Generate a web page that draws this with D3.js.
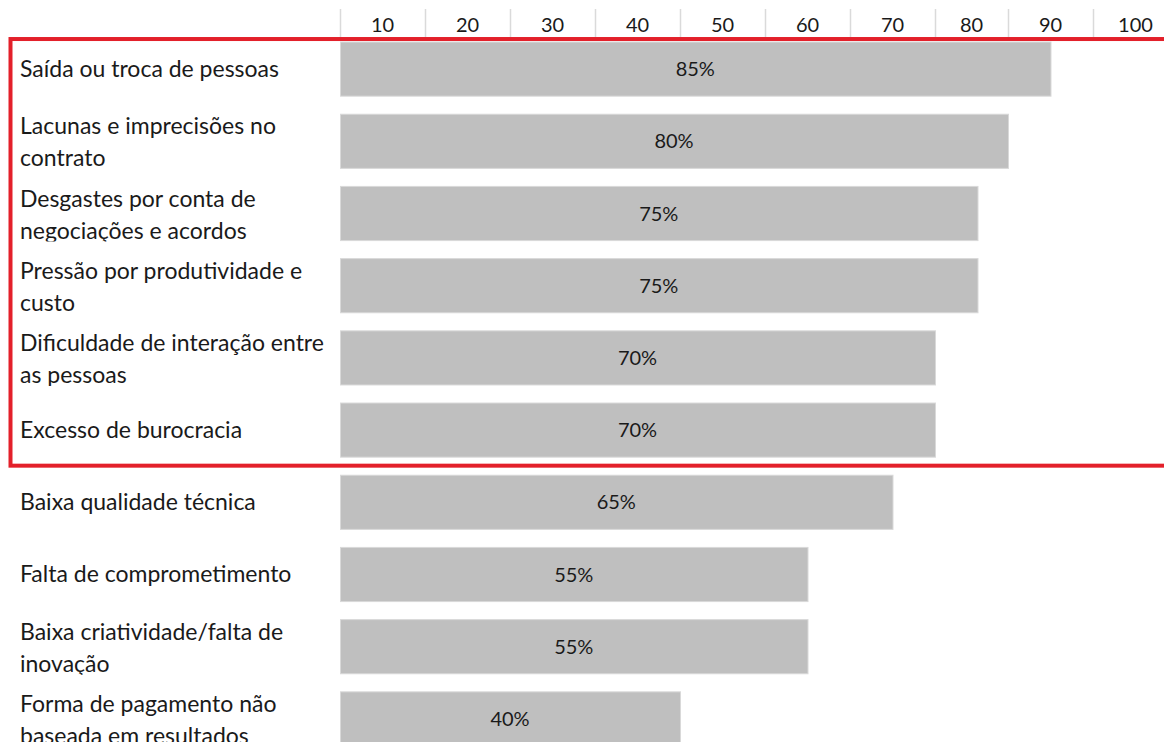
<!DOCTYPE html>
<html>
<head>
<meta charset="utf-8">
<script src="https://cdn.jsdelivr.net/npm/d3@7"></script>
<style>
  body { margin: 0; background: #fff; }
  svg { display: block; font-family: Lato, "Open Sans", sans-serif; }
  .cat { font-size: 23px; fill: #1a1a1a; }
  .val { font-size: 20px; fill: #1a1a1a; }
  .tick-label { font-size: 20px; fill: #1a1a1a; }
</style>
</head>
<body>
<div id="chart"></div>
<script>
const categories = [
  "Saída ou troca de pessoas",
  "Lacunas e imprecisões no\ncontrato",
  "Desgastes por conta de\nnegociações e acordos",
  "Pressão por produtividade e\ncusto",
  "Dificuldade de interação entre\nas pessoas",
  "Excesso de burocracia",
  "Baixa qualidade técnica",
  "Falta de comprometimento",
  "Baixa criatividade/falta de\ninovação",
  "Forma de pagamento não\nbaseada em resultados",
];
const values = [85, 80, 75, 75, 70, 70, 65, 55, 55, 40];
const tickLabels = [10, 20, 30, 40, 50, 60, 70, 80, 90, 100];
const highlightCount = 6;

const width = 1164;
const height = 742;

// header columns in the source are not all equal width, so the scale is piecewise
const x = d3
  .scaleLinear()
  .domain([0, 75, 80, 100])
  .range([340, 977.5, 1008, 1178]);

const y = d3
  .scaleBand()
  .domain(categories)
  .range([33, 33 + 72.2 * categories.length])
  .paddingInner(0.25)
  .paddingOuter(0.125);

const svg = d3
  .select("#chart")
  .append("svg")
  .attr("width", width)
  .attr("height", height);

// header: column lines and labels centred between them
const header = svg.append("g").attr("class", "header");
header
  .selectAll("line")
  .data([0, ...tickLabels])
  .join("line")
  .attr("x1", (d) => Math.round(x(d)) + 0.5)
  .attr("x2", (d) => Math.round(x(d)) + 0.5)
  .attr("y1", 9)
  .attr("y2", 38)
  .attr("stroke", "#dadada")
  .attr("stroke-width", 1.5);
header
  .selectAll("text")
  .data(tickLabels)
  .join("text")
  .attr("class", "tick-label")
  .attr("x", (d) => (x(d - 10) + x(d)) / 2)
  .attr("y", 32)
  .attr("text-anchor", "middle")
  .text((d) => d);

// bars
const row = svg
  .selectAll(".row")
  .data(categories)
  .join("g")
  .attr("class", "row");

row
  .append("rect")
  .attr("x", x(0) + 0.5)
  .attr("y", (d) => y(d))
  .attr("width", (d, i) => x(values[i]) - x(0))
  .attr("height", y.bandwidth())
  .attr("fill", "#bfbfbf")
  .attr("stroke", "#d9d9d9")
  .attr("stroke-width", 1);

row
  .append("text")
  .attr("class", "val")
  .attr("x", (d, i) => (x(0) + x(values[i])) / 2)
  .attr("y", (d) => y(d) + y.bandwidth() / 2 + 7)
  .attr("text-anchor", "middle")
  .text((d, i) => values[i] + "%");

// category labels, clipped to their row like spreadsheet cells
const defs = svg.append("defs");
defs
  .selectAll("clipPath")
  .data(categories)
  .join("clipPath")
  .attr("id", (d, i) => "clip-" + i)
  .append("rect")
  .attr("x", 0)
  .attr("y", (d) => y(d) - 14)
  .attr("width", 338)
  .attr("height", y.bandwidth() + 15);

row
  .append("text")
  .attr("class", "cat")
  .attr("clip-path", (d, i) => `url(#clip-${i})`)
  .each(function (d) {
    const lines = d.split("\n");
    const mid = y(d) + y.bandwidth() / 2;
    const t = d3.select(this);
    if (lines.length === 1) {
      t.append("tspan").attr("x", 20).attr("y", mid + 7.5).text(lines[0]);
    } else {
      t.append("tspan").attr("x", 20).attr("y", mid - 7).text(lines[0]);
      t.append("tspan").attr("x", 20).attr("y", mid + 25).text(lines[1]);
    }
  });

// highlight box round the top group
const boxTop = y(categories[0]) - 3;
const boxBottom = y(categories[highlightCount - 1]) + y.bandwidth() + 8.5;
svg
  .append("rect")
  .attr("x", 10.5)
  .attr("y", boxTop)
  .attr("width", width)
  .attr("height", boxBottom - boxTop)
  .attr("fill", "none")
  .attr("stroke", "#e3202a")
  .attr("stroke-width", 4);
</script>
</body>
</html>
